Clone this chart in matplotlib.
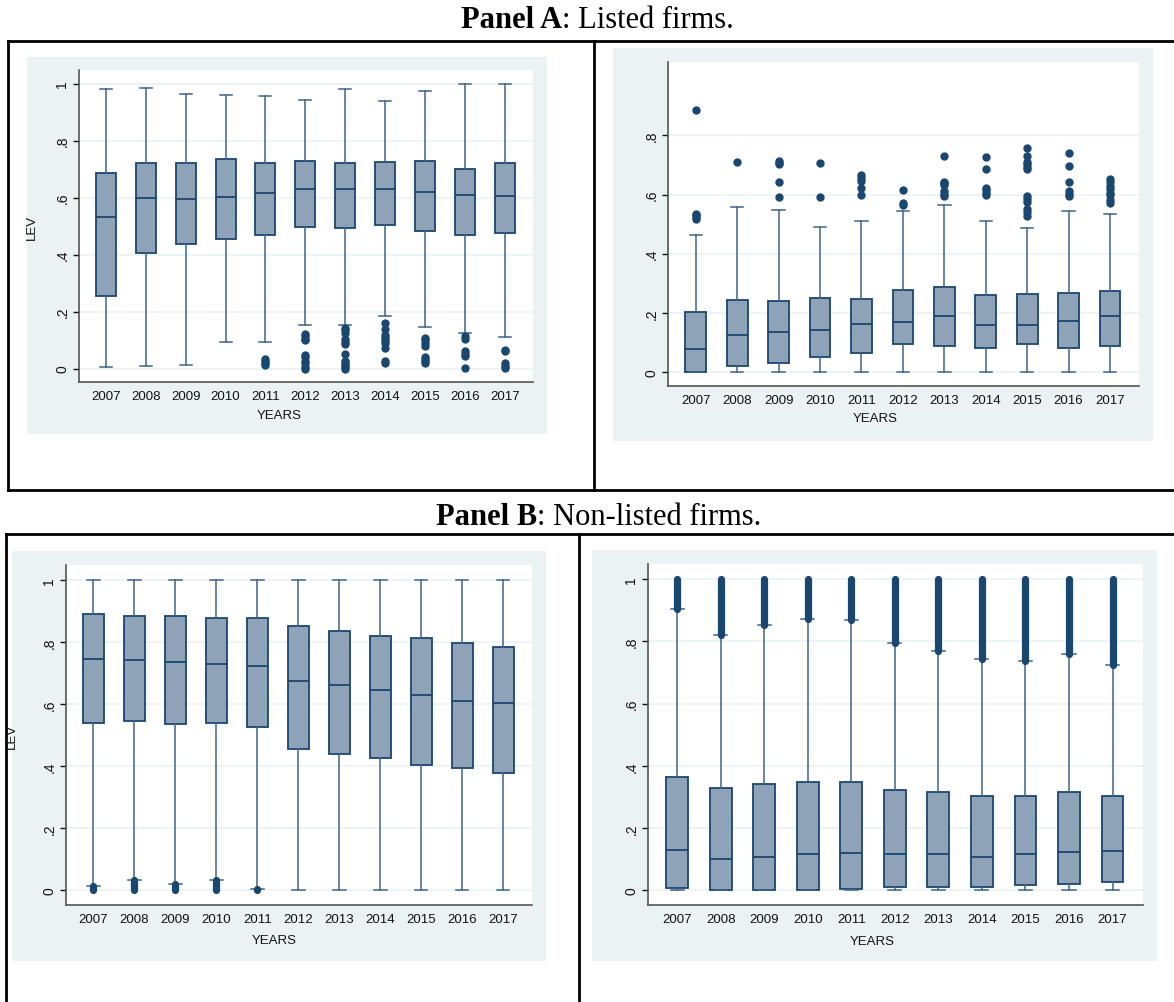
import matplotlib
matplotlib.use("Agg")
import matplotlib.pyplot as plt
from matplotlib.patches import Rectangle
from matplotlib.lines import Line2D

plt.rcParams['font.family'] = ['Liberation Sans', 'DejaVu Sans']

years = ['2007', '2008', '2009', '2010', '2011', '2012', '2013', '2014', '2015', '2016', '2017']

# Panel A, left: LEV of listed firms
a1_q1 = [0.254, 0.406, 0.436, 0.456, 0.469, 0.498, 0.494, 0.504, 0.483, 0.470, 0.476]
a1_med = [0.531, 0.600, 0.595, 0.603, 0.615, 0.629, 0.630, 0.629, 0.620, 0.611, 0.607]
a1_q3 = [0.685, 0.722, 0.721, 0.737, 0.722, 0.727, 0.723, 0.725, 0.729, 0.701, 0.721]
a1_lo = [0.007, 0.010, 0.014, 0.092, 0.094, 0.154, 0.152, 0.183, 0.147, 0.126, 0.112]
a1_hi = [0.982, 0.984, 0.964, 0.959, 0.956, 0.944, 0.981, 0.939, 0.973, 1.000, 1.000]
a1_out = [
    [], [], [], [],
    [0.035, 0.026, 0.018, 0.012],
    [0.123, 0.113, 0.105, 0.099, 0.049, 0.041, 0.026, 0.018, 0.006, 0.0],
    [0.142, 0.134, 0.126, 0.105, 0.093, 0.088, 0.050, 0.026, 0.018, 0.012, 0.006, 0.0],
    [0.160, 0.138, 0.117, 0.109, 0.099, 0.091, 0.074, 0.026, 0.018],
    [0.109, 0.099, 0.090, 0.079, 0.041, 0.033, 0.026, 0.018],
    [0.113, 0.105, 0.062, 0.053, 0.044, 0.002],
    [0.064, 0.061, 0.018, 0.009, 0.002],
]

# Panel A, right
a2_q1 = [0.002, 0.021, 0.030, 0.052, 0.063, 0.096, 0.088, 0.083, 0.095, 0.080, 0.088]
a2_med = [0.079, 0.124, 0.135, 0.142, 0.162, 0.169, 0.189, 0.158, 0.158, 0.171, 0.188]
a2_q3 = [0.203, 0.242, 0.240, 0.252, 0.247, 0.279, 0.286, 0.259, 0.263, 0.267, 0.275]
a2_lo = [0.0] * 11
a2_hi = [0.462, 0.558, 0.549, 0.492, 0.512, 0.543, 0.565, 0.509, 0.487, 0.545, 0.535]
a2_out = [
    [0.886, 0.535, 0.530, 0.524, 0.518],
    [0.710],
    [0.713, 0.708, 0.702, 0.644, 0.593],
    [0.705, 0.592],
    [0.667, 0.656, 0.646, 0.623, 0.600],
    [0.614, 0.571, 0.566],
    [0.731, 0.644, 0.639, 0.631, 0.611, 0.603, 0.595],
    [0.728, 0.685, 0.623, 0.614, 0.606, 0.597],
    [0.759, 0.732, 0.710, 0.702, 0.693, 0.685, 0.595, 0.586, 0.575, 0.550, 0.541, 0.526],
    [0.740, 0.695, 0.644, 0.611, 0.603, 0.595],
    [0.654, 0.644, 0.629, 0.620, 0.605, 0.597, 0.583, 0.572],
]

# Panel B, left: LEV of non-listed firms
b1_q1 = [0.540, 0.544, 0.537, 0.540, 0.525, 0.457, 0.440, 0.428, 0.405, 0.393, 0.378]
b1_med = [0.745, 0.743, 0.734, 0.730, 0.724, 0.676, 0.660, 0.645, 0.628, 0.611, 0.602]
b1_q3 = [0.891, 0.885, 0.883, 0.877, 0.876, 0.851, 0.834, 0.818, 0.813, 0.798, 0.783]
b1_lo = [0.013, 0.032, 0.020, 0.034, 0.003, 0.0, 0.0, 0.0, 0.0, 0.0, 0.0]
b1_hi = [1.0] * 11
# dense clusters of outliers (lowest, highest)
b1_dense = [(0.0, 0.013), (0.0, 0.032), (0.0, 0.020), (0.0, 0.034), (0.0, 0.003),
            None, None, None, None, None, None]

# Panel B, right
b2_q1 = [0.006, 0.0, 0.0, 0.0, 0.004, 0.010, 0.012, 0.010, 0.016, 0.020, 0.026]
b2_med = [0.129, 0.101, 0.106, 0.116, 0.121, 0.118, 0.117, 0.107, 0.118, 0.124, 0.126]
b2_q3 = [0.365, 0.329, 0.340, 0.348, 0.349, 0.322, 0.315, 0.304, 0.304, 0.316, 0.304]
b2_lo = [0.0] * 11
b2_hi = [0.904, 0.821, 0.851, 0.872, 0.869, 0.793, 0.769, 0.743, 0.735, 0.760, 0.725]
b2_dense = [(0.904, 1.0), (0.821, 1.0), (0.851, 1.0), (0.872, 1.0), (0.869, 1.0), (0.793, 1.0),
            (0.769, 1.0), (0.743, 1.0), (0.735, 1.0), (0.760, 1.0), (0.725, 1.0)]

BG = '#EAF2F3'
FILL = '#8EA3B8'
NAVY = '#1A476F'
WHISK = '#3F6388'

W, H = 1174, 1003
fig = plt.figure(figsize=(W / 100, H / 100), dpi=100)


def frac(x0, y0, x1, y1):
    return [x0 / W, 1 - y1 / H, (x1 - x0) / W, (y1 - y0) / H]


def fline(xs, ys):
    fig.add_artist(Line2D([x / W for x in xs], [1 - y / H for y in ys],
                          transform=fig.transFigure, color='black', lw=2.0))


def panel(bg, box, q1, med, q3, lo, hi, out, dense, ticks, labels, xlab, ylab=None):
    r = frac(*bg)
    fig.add_artist(Rectangle((r[0], r[1]), r[2], r[3], transform=fig.transFigure,
                             facecolor=BG, edgecolor='none', zorder=0))
    ax = fig.add_axes(frac(*box))
    ax.set_facecolor('white')
    stats = []
    for i in range(len(years)):
        stats.append(dict(med=med[i], q1=q1[i], q3=q3[i], whislo=lo[i], whishi=hi[i],
                          fliers=out[i] if out else []))
    ax.bxp(stats, positions=range(len(years)), widths=0.5, capwidths=0.3, patch_artist=True,
           boxprops=dict(facecolor=FILL, edgecolor=NAVY, linewidth=1.3),
           medianprops=dict(color=NAVY, linewidth=1.3),
           whiskerprops=dict(color=WHISK, linewidth=1.1),
           capprops=dict(color=WHISK, linewidth=1.1),
           flierprops=dict(marker='o', markerfacecolor=NAVY, markeredgecolor=NAVY,
                           markersize=5))
    if dense:
        for i, d in enumerate(dense):
            if d is not None:
                ax.plot([i, i], [d[0], d[1]], color=NAVY, lw=5.2, solid_capstyle='round',
                        zorder=4)
    ax.set_xlim(-0.67, 10.70)
    ax.set_ylim(-0.047, 1.048)
    ax.set_xticks(range(len(years)))
    ax.set_xticklabels(years)
    ax.set_yticks(ticks)
    ax.set_yticklabels(labels, rotation=90, va='center')
    ax.grid(axis='y', color=BG, lw=1.2)
    ax.set_axisbelow(True)
    for s in ['top', 'right']:
        ax.spines[s].set_visible(False)
    for s in ['left', 'bottom']:
        ax.spines[s].set_color('#555555')
        ax.spines[s].set_linewidth(1.2)
    ax.tick_params(axis='x', length=0, pad=6, labelsize=9.5, colors='#111111')
    ax.tick_params(axis='y', length=4.5, width=1, pad=2.5, labelsize=10, colors='#111111')
    fig.text(xlab[0] / W, 1 - xlab[1] / H, 'YEARS', ha='center', va='center',
             fontsize=9.5, color='#111111')
    if ylab:
        fig.text(ylab[0] / W, 1 - ylab[1] / H, 'LEV', ha='center', va='center',
                 rotation=90, fontsize=9.5, color='#111111')
    return ax


t6 = [0, 0.2, 0.4, 0.6, 0.8, 1.0]
l6 = ['0', '.2', '.4', '.6', '.8', '1']

panel((27, 58, 547, 435), (79, 71, 533, 383), a1_q1, a1_med, a1_q3, a1_lo, a1_hi, a1_out,
      None, t6, l6, (279, 416), (32, 227))
panel((613, 49, 1153, 442), (668, 63, 1139, 387), a2_q1, a2_med, a2_q3, a2_lo, a2_hi, a2_out,
      None, t6[:5], l6[:5], (875, 419))
panel((12, 552, 546, 962), (66, 566, 532, 906), b1_q1, b1_med, b1_q3, b1_lo, b1_hi, None,
      b1_dense, t6, l6, (274, 941), (12, 736))
panel((592, 551, 1157, 962), (648, 565, 1143, 906), b2_q1, b2_med, b2_q3, b2_lo, b2_hi, None,
      b2_dense, t6, l6, (872, 942))

# table borders
fline([8, 1174], [42, 42])
fline([8, 1174], [491, 491])
fline([8, 8], [42, 491])
fline([594, 594], [42, 491])
fline([6, 1174], [535, 535])
fline([6, 6], [535, 1003])
fline([579, 579], [535, 1003])

# panel titles: bold lead + regular rest, centred as a whole
fig.canvas.draw()
rend = fig.canvas.get_renderer()
for cx, y, lead, rest in [(597, 28.5, 'Panel A', ': Listed firms.'),
                          (599, 525, 'Panel B', ': Non-listed firms.')]:
    t1 = fig.text(0, 1 - y / H, lead, family='Liberation Serif', weight='bold',
                  fontsize=22, va='baseline', ha='left')
    t2 = fig.text(0, 1 - y / H, rest, family='Liberation Serif',
                  fontsize=22, va='baseline', ha='left')
    w1 = t1.get_window_extent(rend).width
    w2 = t2.get_window_extent(rend).width
    x0 = cx - (w1 + w2) / 2
    t1.set_x(x0 / W)
    t2.set_x((x0 + w1) / W)

fig.savefig('out.png', dpi=100)
